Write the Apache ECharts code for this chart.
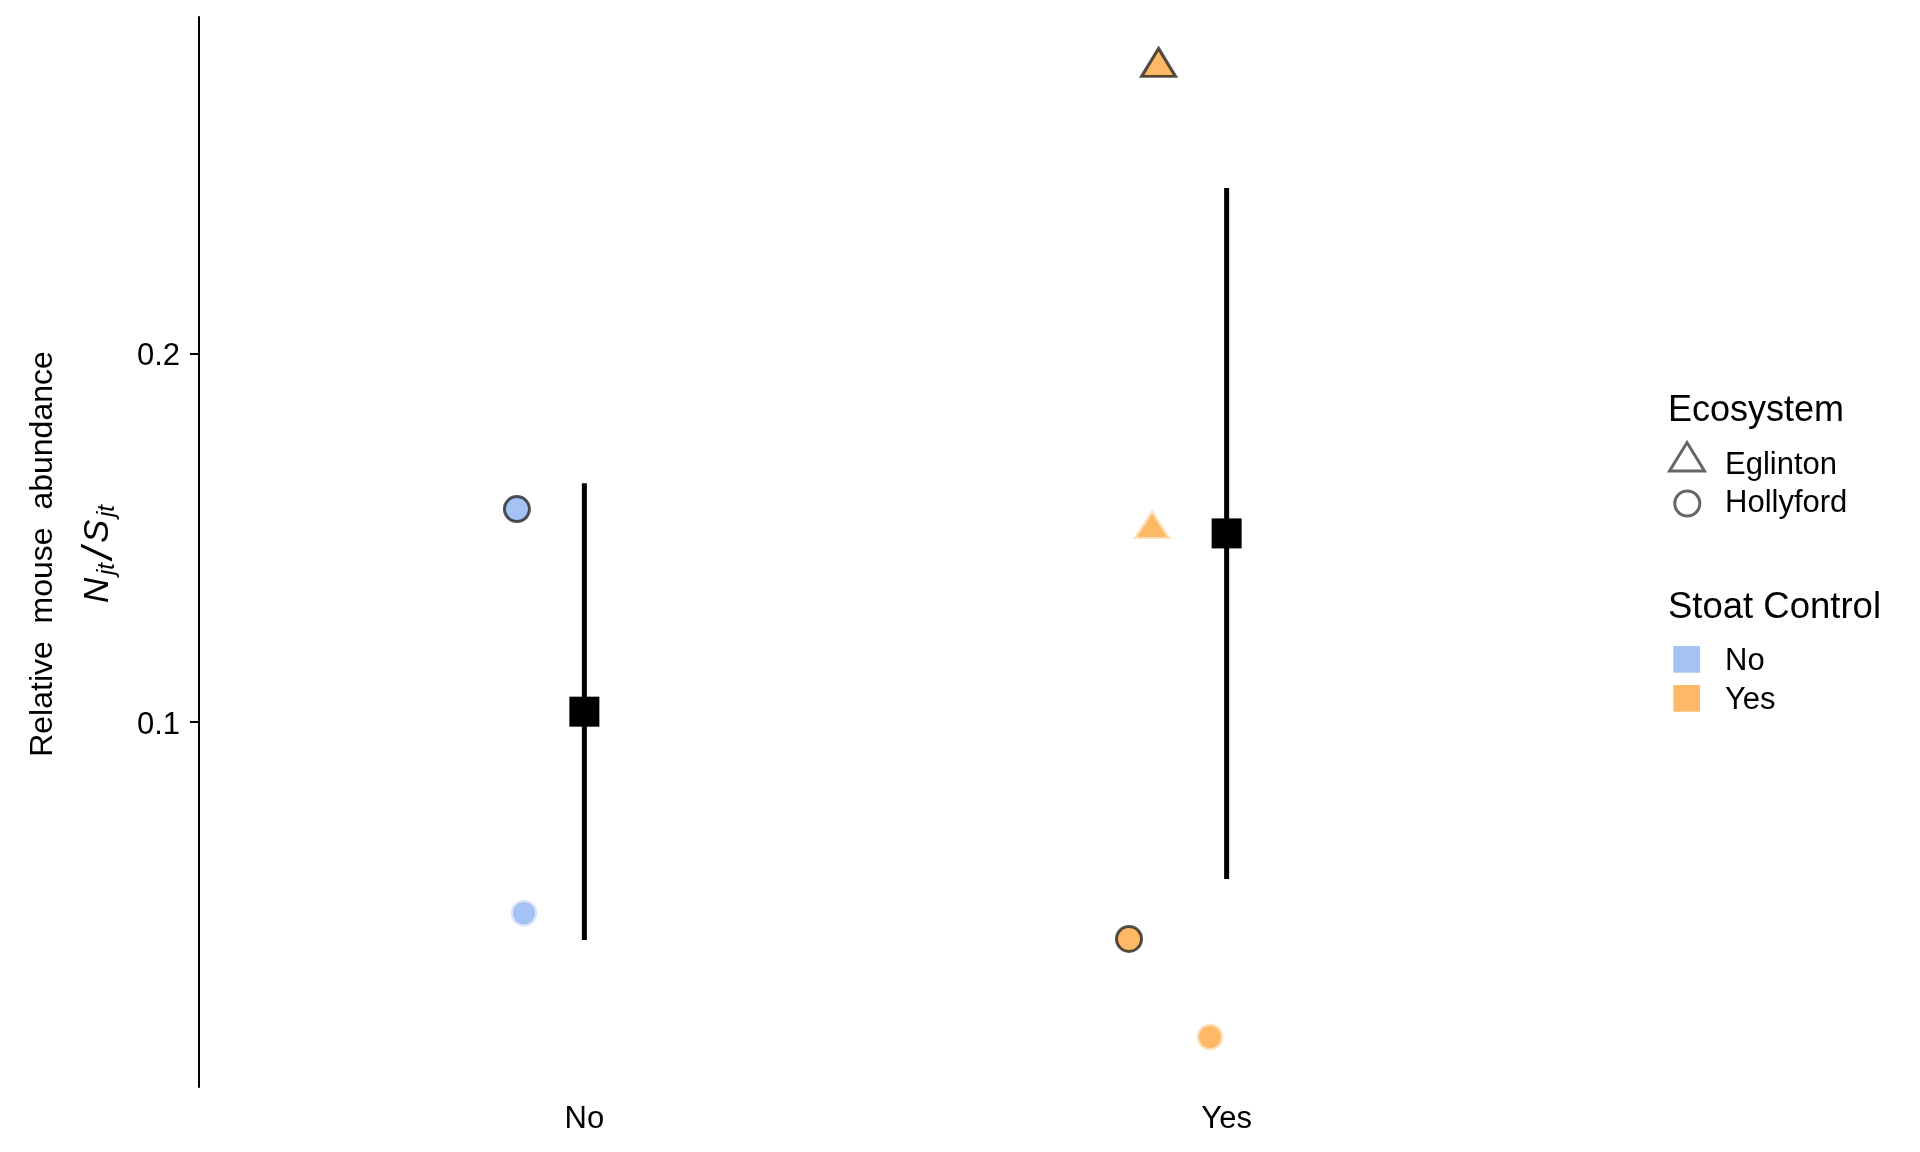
<!DOCTYPE html>
<html>
<head>
<meta charset="utf-8">
<script src="https://cdn.jsdelivr.net/npm/echarts@6/dist/echarts.min.js"></script>
<style>
html,body{margin:0;padding:0;background:#fff;}
#chart{width:1920px;height:1152px;}
</style>
</head>
<body>
<div id="chart"></div>
<script>
// ---- data ----
const categories = ['No', 'Yes'];
const yTicks = [0.1, 0.2];
// individual observations
const obsControl   = ['No', 'No', 'Yes', 'Yes', 'Yes', 'Yes'];
const obsEcosystem = ['Hollyford', 'Hollyford', 'Eglinton', 'Eglinton', 'Hollyford', 'Hollyford'];
const obsOutlined  = [true, false, true, false, true, false];
const obsJitter    = [-0.105, -0.094, -0.106, -0.116, -0.152, -0.026];
const obsValue     = [0.1577, 0.0480, 0.2777, 0.1522, 0.0410, 0.0144];
// group estimates with intervals
const meanValue  = [0.1027, 0.1511];
const lowerValue = [0.0407, 0.0573];
const upperValue = [0.1647, 0.2449];

// ---- styling ----
const FONT = "'Liberation Sans', Arial, sans-serif";
const controlColor = { No: '#A4C2F4', Yes: '#FFB966' };
const controlFaded = { No: 'rgba(164,194,244,0.45)', Yes: 'rgba(255,185,102,0.45)' };
const ecoSymbol = { Eglinton: 'triangle', Hollyford: 'circle' };

const obsData = [];
const order = [1, 3, 5, 0, 2, 4]; // faded first, outlined on top
order.forEach(i => {
  const ci = categories.indexOf(obsControl[i]) + 1;
  const sym = ecoSymbol[obsEcosystem[i]];
  const out = obsOutlined[i];
  let size, off;
  if (sym === 'triangle') {
    size = out ? [34, 28] : [30, 23];
    off = [0, -size[1] / 6];
  } else {
    size = out ? 25 : 22;
    off = [0, 0];
  }
  obsData.push({
    value: [ci + obsJitter[i], obsValue[i]],
    symbol: sym,
    symbolSize: size,
    symbolOffset: off,
    itemStyle: {
      color: controlColor[obsControl[i]],
      borderColor: out ? 'rgba(25,25,25,0.75)' : controlFaded[obsControl[i]],
      borderWidth: out ? 3 : 4.5,
      opacity: 1
    }
  });
});

const barData = categories.map((c, i) => [i + 1, lowerValue[i], upperValue[i]]);
const meanData = categories.map((c, i) => [i + 1, meanValue[i]]);

const chart = echarts.init(document.getElementById('chart'), null, { renderer: 'canvas' });

const legendText = (x, y, text, size) => ({
  type: 'text', x: x, y: y,
  style: { text: text, font: size + 'px ' + FONT, fill: '#000', align: 'left', verticalAlign: 'middle' }
});

chart.setOption({
  animation: false,
  backgroundColor: '#ffffff',
  grid: { left: 199, right: 308, top: 17, bottom: 65, containLabel: false },
  xAxis: {
    type: 'value', min: 0.4, max: 2.6,
    axisLine: { show: false }, axisTick: { show: false }, splitLine: { show: false },
    axisLabel: {
      customValues: [1, 2],
      formatter: v => categories[Math.round(v) - 1] || '',
      fontFamily: FONT, fontSize: 31, color: '#000',
      margin: 32, verticalAlign: 'middle'
    }
  },
  yAxis: {
    type: 'value', min: 0.0008, max: 0.2913,
    axisLine: { show: true, lineStyle: { color: '#000', width: 2 } },
    axisTick: { show: true, length: 9, lineStyle: { color: '#000', width: 2 }, customValues: yTicks },
    splitLine: { show: false },
    axisLabel: {
      customValues: yTicks,
      formatter: v => '{t|' + v.toFixed(1) + '}',
      color: '#000', margin: 19,
      rich: { t: { fontFamily: FONT, fontSize: 31, color: '#000', padding: [7, 0, 0, 0] } }
    }
  },
  series: [
    {
      type: 'scatter', data: obsData, z: 3
    },
    {
      type: 'custom', z: 4,
      data: barData,
      renderItem: (params, api) => {
        const p1 = api.coord([api.value(0), api.value(1)]);
        const p2 = api.coord([api.value(0), api.value(2)]);
        return {
          type: 'line',
          shape: { x1: p1[0], y1: p1[1], x2: p2[0], y2: p2[1] },
          style: { stroke: '#000', lineWidth: 5, lineCap: 'butt' }
        };
      }
    },
    {
      type: 'scatter', z: 5, data: meanData,
      symbol: 'rect', symbolSize: 30,
      itemStyle: { color: '#000', opacity: 1 }
    }
  ],
  graphic: [
    // y-axis title
    {
      type: 'text', x: 43, y: 554, rotation: Math.PI / 2,
      style: { text: 'Relative  mouse  abundance', font: '32px ' + FONT, fill: '#000', align: 'center', verticalAlign: 'middle' }
    },
    {
      type: 'group', x: 98, y: 553, rotation: Math.PI / 2,
      children: [
        { type: 'text', x: -50, y: 0, style: { text: 'N', font: 'italic 35px ' + FONT, fill: '#000', align: 'left', verticalAlign: 'middle' } },
        { type: 'text', x: -22, y: 9, style: { text: 'jt', font: 'italic 24px ' + FONT, fill: '#000', align: 'left', verticalAlign: 'middle' } },
        { type: 'text', x: -6, y: 2, style: { text: '/', font: 'italic 42px ' + FONT, fill: '#000', align: 'left', verticalAlign: 'middle' } },
        { type: 'text', x: 10, y: 0, style: { text: 'S', font: 'italic 35px ' + FONT, fill: '#000', align: 'left', verticalAlign: 'middle' } },
        { type: 'text', x: 36, y: 9, style: { text: 'jt', font: 'italic 24px ' + FONT, fill: '#000', align: 'left', verticalAlign: 'middle' } }
      ]
    },
    // legend: Ecosystem
    legendText(1668, 411, 'Ecosystem', 36),
    {
      type: 'polygon',
      shape: { points: [[1669.5, 471], [1704.5, 471], [1687, 442.5]] },
      style: { fill: 'none', stroke: '#666', lineWidth: 3 }
    },
    legendText(1725, 465, 'Eglinton', 31),
    {
      type: 'circle', shape: { cx: 1687.3, cy: 503.5, r: 12.5 },
      style: { fill: 'none', stroke: '#666', lineWidth: 3 }
    },
    legendText(1725, 503, 'Hollyford', 31),
    // legend: Stoat Control
    legendText(1668, 608, 'Stoat Control', 36.5),
    { type: 'rect', shape: { x: 1673.3, y: 646, width: 26.7, height: 26.7 }, style: { fill: controlColor.No } },
    legendText(1725, 661, 'No', 31),
    { type: 'rect', shape: { x: 1673.3, y: 685, width: 26.7, height: 26.7 }, style: { fill: controlColor.Yes } },
    legendText(1725, 700, 'Yes', 31)
  ]
});
</script>
</body>
</html>
